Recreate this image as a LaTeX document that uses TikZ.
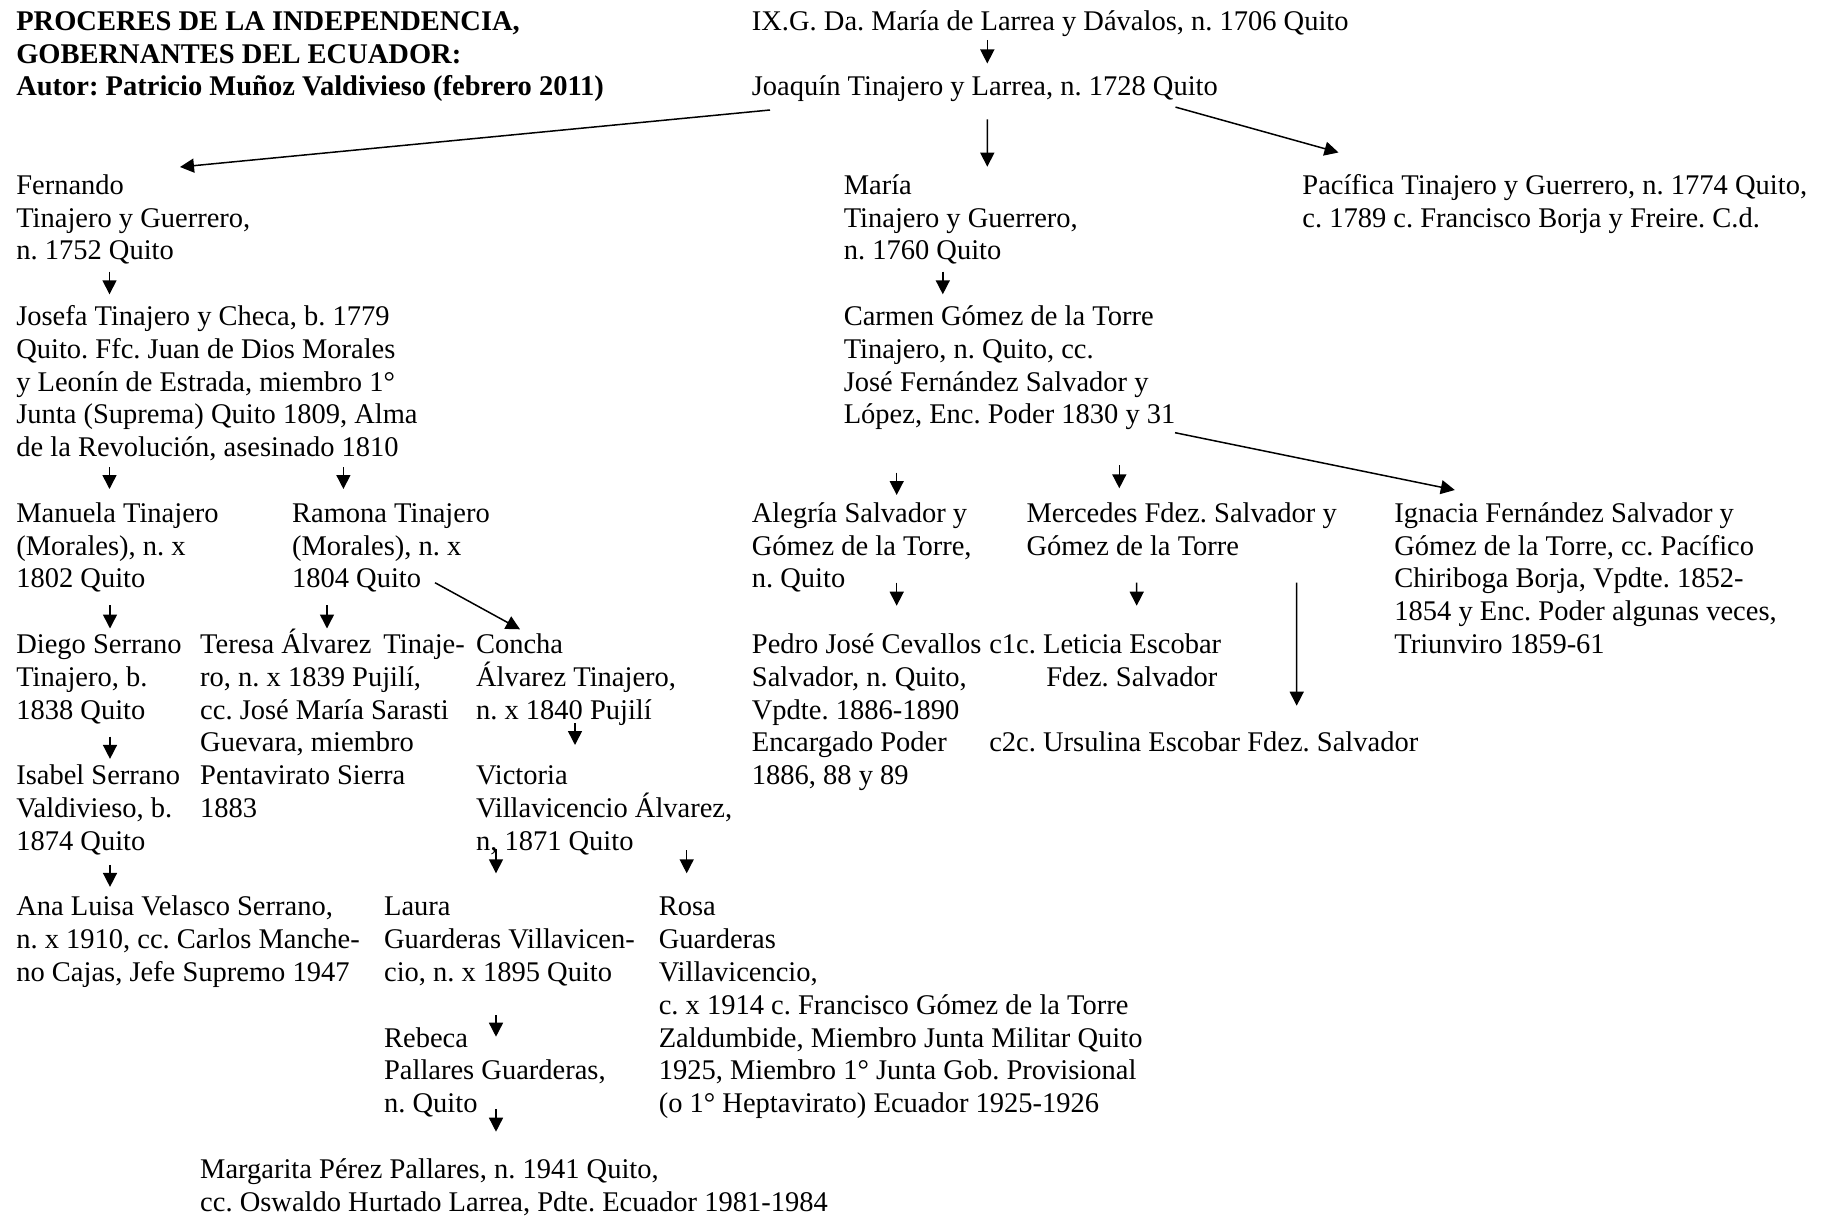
\documentclass[tikz,border=0pt]{standalone}
\usepackage{fontspec}
\setmainfont{Liberation Serif}
\usetikzlibrary{arrows.meta,calc}
\newcommand\Rt{\rule{0pt}{26pt}}
\frenchspacing
\begin{document}
\begin{tikzpicture}[x=1pt,y=-1pt,
  txt/.style={anchor=north west,inner sep=0pt,outer sep=0pt,align=left,
    font=\fontsize{28.5}{32.8}\selectfont},
  ttl/.style={txt,font=\fontsize{28.5}{32.8}\selectfont\bfseries},
  arr/.style={-{Triangle[length=14pt,width=14pt]},line width=1.5pt}]
\useasboundingbox[fill=white] (0,0) rectangle (1825,1215);

\node[ttl] (title) at (16.3,4.3) {\Rt PROCERES DE LA INDEPENDENCIA,\\GOBERNANTES DEL ECUADOR:\\Autor: Patricio Muñoz Valdivieso (febrero 2011)};

\node[txt] (ixg) at (751.9,4.3) {\Rt IX.G. Da. María de Larrea y Dávalos, n. 1706 Quito};
\node[txt] (joa) at (751.9,69.9) {\Rt Joaquín Tinajero y Larrea, n. 1728 Quito};

\node[txt] (fer) at (16.3,168.3) {\Rt Fernando\\Tinajero y Guerrero,\\n. 1752 Quito};
\node[txt] (mar) at (843.8,168.3) {\Rt María\\Tinajero y Guerrero,\\n. 1760 Quito};
\node[txt] (pac) at (1302.4,168.3) {\Rt Pacífica Tinajero y Guerrero, n. 1774 Quito,\\c. 1789 c. Francisco Borja y Freire. C.d.};

\node[txt] (jos) at (16.3,299.5) {\Rt Josefa Tinajero y Checa, b. 1779\\Quito. Ffc. Juan de Dios Morales\\y Leonín de Estrada, miembro 1°\\Junta (Suprema) Quito 1809, Alma\\de la Revolución, asesinado 1810};
\node[txt] (car) at (843.8,299.5) {\Rt Carmen Gómez de la Torre\\Tinajero, n. Quito, cc.\\José Fernández Salvador y\\López, Enc. Poder 1830 y 31};

\node[txt] (man) at (16.3,496.3) {\Rt Manuela Tinajero\\(Morales), n. x\\1802 Quito};
\node[txt] (ram) at (292.1,496.3) {\Rt Ramona Tinajero\\(Morales), n. x\\1804 Quito};
\node[txt] (ale) at (751.9,496.3) {\Rt Alegría Salvador y\\Gómez de la Torre,\\n. Quito};
\node[txt] (mer) at (1026.6,496.3) {\Rt Mercedes Fdez. Salvador y\\Gómez de la Torre};
\node[txt] (ign) at (1394.4,496.3) {\Rt Ignacia Fernández Salvador y\\Gómez de la Torre, cc. Pacífico\\Chiriboga Borja, Vpdte. 1852-\\1854 y Enc. Poder algunas veces,\\Triunviro 1859-61};

\node[txt] (die) at (16.3,627.5) {\Rt Diego Serrano\\Tinajero, b.\\1838 Quito};
\node[txt] (ter) at (200.2,627.5) {\Rt Teresa Álvarez\hspace{12pt}Tinaje-\\ro, n. x 1839 Pujilí,\\cc. José María Sarasti\\Guevara, miembro\\Pentavirato Sierra\\1883};
\node[txt] (con) at (476.0,627.5) {\Rt Concha\\Álvarez Tinajero,\\n. x 1840 Pujilí};
\node[txt] (ped) at (751.9,627.5) {\Rt Pedro José Cevallos\\Salvador, n. Quito,\\Vpdte. 1886-1890\\Encargado Poder\\1886, 88 y 89};
\node[txt] (cuc) at (989.3,627.5) {\Rt c1c. Leticia Escobar\\\hspace*{57pt}Fdez. Salvador};
\node[txt] (cdc) at (989.3,725.9) {\Rt c2c. Ursulina Escobar Fdez. Salvador};

\node[txt] (isa) at (16.3,758.7) {\Rt Isabel Serrano\\Valdivieso, b.\\1874 Quito};
\node[txt] (vic) at (476.0,758.7) {\Rt Victoria\\Villavicencio Álvarez,\\n, 1871 Quito};

\node[txt] (ana) at (16.3,889.9) {\Rt Ana Luisa Velasco Serrano,\\n. x 1910, cc. Carlos Manche-\\no Cajas, Jefe Supremo 1947};
\node[txt] (lau) at (384.1,889.9) {\Rt Laura\\Guarderas Villavicen-\\cio, n. x 1895 Quito};
\node[txt] (ros) at (658.8,889.9) {\Rt Rosa\\Guarderas\\Villavicencio,\\c. x 1914 c. Francisco Gómez de la Torre\\Zaldumbide, Miembro Junta Militar Quito\\1925, Miembro 1° Junta Gob. Provisional\\(o 1° Heptavirato) Ecuador 1925-1926};

\node[txt] (reb) at (384.1,1021.1) {\Rt Rebeca\\Pallares Guarderas,\\n. Quito};
\node[txt] (mgt) at (200.2,1152.3) {\Rt Margarita Pérez Pallares, n. 1941 Quito,\\cc. Oswaldo Hurtado Larrea, Pdte. Ecuador 1981-1984};

% connectors
\draw[arr] ($(ixg.north west)+(235.4,35.7)$) -- ($(joa.north west)+(235.4,-6.4)$);
\draw[arr] ($(joa.north west)+(18.1,40.1)$) -- ($(fer.north west)+(163.7,-1.3)$);
\draw[arr] ($(joa.north west)+(235.4,49.4)$) -- ($(mar.north west)+(143.5,-1.6)$);
\draw[arr] ($(joa.north west)+(423.6,37.2)$) -- ($(pac.north west)+(36.1,-15.8)$);
\draw[arr] ($(fer.north west)+(93.2,103.4)$) -- ($(jos.north west)+(93.2,-5.2)$);
\draw[arr] ($(jos.north west)+(93.2,167.5)$) -- ($(man.north west)+(93.2,-7.3)$);
\draw[arr] ($(jos.north west)+(327.1,167.5)$) -- ($(ram.north west)+(51.3,-7.3)$);
\draw[arr] ($(mar.north west)+(99,103.4)$) -- ($(car.north west)+(99,-5.2)$);
\draw[arr] ($(car.north west)+(331.2,133.2)$) -- ($(ign.north west)+(60.4,-6.3)$);
\draw[arr] ($(car.north west)+(52.9,173.2)$) -- ($(ale.north west)+(144.8,-1.3)$);
\draw[arr] ($(car.north west)+(275.5,165.5)$) -- ($(mer.north west)+(92.7,-8)$);
\draw[arr] ($(man.north west)+(93.7,108.7)$) -- ($(die.north west)+(93.7,1)$);
\draw[arr] ($(ram.north west)+(34.9,108.7)$) -- ($(ter.north west)+(126.8,1)$);
\draw[arr] ($(ram.north west)+(142.9,86.4)$) -- ($(con.north west)+(44,1.8)$);
\draw[arr] ($(ale.north west)+(144.8,86.4)$) -- ($(ped.north west)+(144.8,-21.8)$);
\draw[arr] ($(mer.north west)+(110.1,86.4)$) -- ($(cuc.north west)+(147.4,-21.8)$);
\draw[arr] ($(mer.north west)+(270.1,86.4)$) -- ($(cdc.north west)+(307.4,-20.2)$);
\draw[arr] ($(die.north west)+(93.7,109.2)$) -- ($(isa.north west)+(93.7,0.2)$);
\draw[arr] ($(con.north west)+(99,95.8)$) -- ($(vic.north west)+(99,-13.7)$);
\draw[arr] ($(isa.north west)+(93.7,106.1)$) -- ($(ana.north west)+(93.7,-3)$);
\draw[arr] ($(vic.north west)+(20,90.3)$) -- ($(lau.north west)+(111.9,-16.6)$);
\draw[arr] ($(vic.north west)+(210.7,91.3)$) -- ($(ros.north west)+(27.9,-16.6)$);
\draw[arr] ($(lau.north west)+(111.9,125.1)$) -- ($(reb.north west)+(111.9,15.6)$);
\draw[arr] ($(reb.north west)+(111.9,88.2)$) -- ($(mgt.north west)+(295.8,-20.6)$);
\end{tikzpicture}
\end{document}
